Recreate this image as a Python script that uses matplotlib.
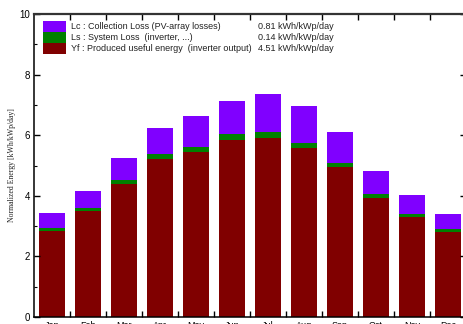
import numpy as np
import matplotlib
matplotlib.use('Agg')
import matplotlib.pyplot as plt
from matplotlib.patches import Rectangle

plt.rcParams['font.family'] = 'Liberation Sans'

# monthly values, kWh/kWp/day
months = ['Jan', 'Feb', 'Mar', 'Apr', 'May', 'Jun',
          'Jul', 'Aug', 'Sep', 'Oct', 'Nov', 'Dec']
yf = [2.85, 3.51, 4.39, 5.21, 5.46, 5.84, 5.91, 5.58, 4.94, 3.92, 3.31, 2.81]
ls = [0.08, 0.09, 0.13, 0.16, 0.16, 0.19, 0.19, 0.17, 0.15, 0.13, 0.09, 0.09]
lc = [0.50, 0.56, 0.72, 0.87, 1.00, 1.11, 1.26, 1.22, 1.02, 0.76, 0.62, 0.50]

legend_labels = ['Lc : Collection Loss (PV-array losses)',
                 'Ls : System Loss  (inverter, ...)',
                 'Yf : Produced useful energy  (inverter output)']
legend_values = ['0.81 kWh/kWp/day', '0.14 kWh/kWp/day', '4.51 kWh/kWp/day']

c_lc = '#8000ff'
c_ls = '#008000'
c_yf = '#800000'

fig = plt.figure(figsize=(4.64, 3.24), dpi=100)
# axes runs slightly past the right edge, like the cropped original
ax = fig.add_axes([34 / 464, 7 / 324, 432 / 464, 303 / 324])

x = np.arange(len(months))
yf_arr = np.array(yf)
ls_arr = np.array(ls)
lc_arr = np.array(lc)
w = 0.72
ax.bar(x, yf_arr, width=w, color=c_yf, linewidth=0)
ax.bar(x, ls_arr, width=w, bottom=yf_arr, color=c_ls, linewidth=0)
ax.bar(x, lc_arr, width=w, bottom=yf_arr + ls_arr, color=c_lc, linewidth=0)

ax.set_xlim(-0.5, 11.5)
ax.set_ylim(0, 10)

# ticks on the month boundaries, labels in the middle
ax.set_xticks(np.arange(0.5, 11, 1))
ax.set_xticklabels([])
ax.set_xticks(x, minor=True)
ax.set_xticklabels(months, minor=True, fontsize=6.5)
ax.tick_params(axis='x', which='major', direction='in', length=4.5,
               width=1, top=True, bottom=True)
ax.tick_params(axis='x', which='minor', length=0, pad=3)

ax.set_yticks(np.arange(0, 11, 2))
ax.set_yticks(np.arange(1, 10, 2), minor=True)
ax.tick_params(axis='y', which='major', direction='in', length=4.5,
               width=1, left=True, right=True, labelsize=7, pad=3)
ax.tick_params(axis='y', which='minor', direction='in', length=2,
               width=0.8, left=True, right=True)

for s in ax.spines.values():
    s.set_linewidth(1.1)
ax.spines['top'].set_color('#333333')
ax.spines['top'].set_linewidth(1.6)

ax.set_ylabel('Normalized Energy [kWh/kWp/day]', family='Liberation Serif',
              fontsize=5.6, labelpad=2, color='#222222')

# legend block drawn by hand so the values line up in a column
box_x0 = 9 / 432
box_w = 23 / 432
box_h = 11 / 303
top = 1 - 7 / 303
for i, (lab, val, col) in enumerate(zip(legend_labels, legend_values,
                                        [c_lc, c_ls, c_yf])):
    y0 = top - (i + 1) * box_h
    ax.add_patch(Rectangle((box_x0, y0), box_w, box_h, transform=ax.transAxes,
                           color=col, linewidth=0))
    ax.text(37 / 432, y0 + box_h / 2, lab, transform=ax.transAxes,
            fontsize=6.5, va='center', ha='left', color='#222222')
    ax.text(224 / 432, y0 + box_h / 2, val, transform=ax.transAxes,
            fontsize=6.5, va='center', ha='left', color='#222222')

fig.savefig('out.png', dpi=100)
